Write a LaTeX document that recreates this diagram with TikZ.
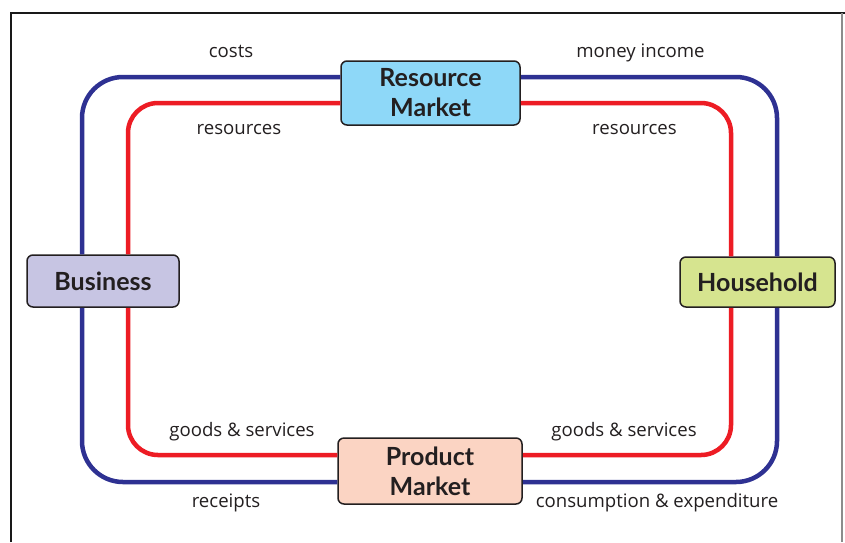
\documentclass[tikz,border=0pt]{standalone}
\usepackage{fontspec}
\setmainfont{Open Sans}
\newfontfamily\boxfont{Lato}
\definecolor{loopblue}{HTML}{2E3192}
\definecolor{loopred}{HTML}{ED1C24}
\definecolor{rmfill}{HTML}{8ED8F8}
\definecolor{pmfill}{HTML}{FBD4C3}
\definecolor{busfill}{HTML}{C7C5E3}
\definecolor{hhfill}{HTML}{D6E48F}
\definecolor{boxedge}{HTML}{231F20}
\tikzset{
  mbox/.style={draw=boxedge, line width=1.5pt, rounded corners=6pt, align=center,
    font=\boxfont\bfseries\fontsize{25}{30}\selectfont, text=boxedge, inner sep=0pt},
  bloop/.style={draw=loopblue, line width=4.5pt, rounded corners=41pt},
  rloop/.style={draw=loopred, line width=4.5pt, rounded corners=30pt},
  lbl/.style={font=\fontsize{18.6}{21}\selectfont, text=boxedge, anchor=base, inner sep=0pt},
}
\begin{document}
\begin{tikzpicture}[x=1pt,y=-1pt]
\useasboundingbox (0,0) rectangle (845,542);
\fill[white] (0,0) rectangle (845,542);
% frame
\draw[black!90, line width=2pt] (11,542) -- (11,13) -- (845,13);
\draw[black!45, line width=1.5pt] (842,13) -- (842,542);
% boxes
\node[mbox, fill=rmfill, minimum width=179pt, minimum height=64pt] (rm) at (430.5,93) {Resource\\Market};
\node[mbox, fill=pmfill, minimum width=184pt, minimum height=66pt] (pm) at (430,471) {Product\\Market};
\node[mbox, fill=busfill, minimum width=152pt, minimum height=52pt] (bus) at (103,281) {Business};
\node[mbox, fill=hhfill, minimum width=155pt, minimum height=50pt] (hh) at (757.5,282) {Household};
% blue loop (money)
\draw[bloop] (rm.west |- 0,77) -| (bus.north -| 82,0);
\draw[bloop] (bus.south -| 82,0) |- (pm.west |- 0,482);
\draw[bloop] (pm.east |- 0,482) -| (hh.south -| 777,0);
\draw[bloop] (hh.north -| 777,0) |- (rm.east |- 0,77);
% red loop (real)
\draw[rloop] (rm.west |- 0,103) -| (bus.north -| 128,0);
\draw[rloop] (bus.south -| 128,0) |- (pm.west |- 0,455);
\draw[rloop] (pm.east |- 0,455) -| (hh.south -| 731,0);
\draw[rloop] (hh.north -| 731,0) |- (rm.east |- 0,103);
% labels
\node[lbl] (l1) at (231,57) {costs};
\node[lbl] (l2) at (640.5,57) {money income};
\node[lbl] (l3) at (239,134) {resources};
\node[lbl] (l4) at (634.5,134) {resources};
\node[lbl] (l5) at (242,436) {goods \& services};
\node[lbl] (l6) at (624,436) {goods \& services};
\node[lbl] (l7) at (226,507) {receipts};
\node[lbl] (l8) at (657,507) {consumption \& expenditure};
\end{tikzpicture}
\end{document}
